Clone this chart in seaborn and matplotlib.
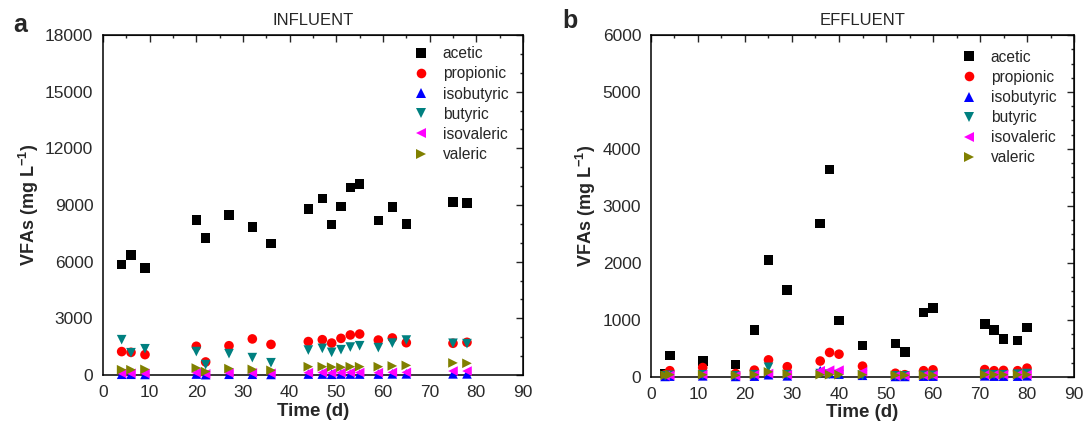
import pandas as pd
import matplotlib
matplotlib.use("Agg")
import matplotlib.pyplot as plt
import seaborn as sns
from matplotlib.ticker import MultipleLocator

# Data (mg/L)
acids = ["acetic", "propionic", "isobutyric", "butyric", "isovaleric", "valeric"]
colors = ["#000000", "#ff0000", "#0000ff", "#008080", "#ff00ff", "#808000"]
markers = ["s", "o", "^", "v", "<", ">"]

inf_days = [4, 6, 9, 20, 22, 27, 32, 36, 44, 47, 49, 51, 53, 55, 59, 62, 65, 75, 78]
inf_acetic = [5850, 6350, 5650, 8200, 7250, 8480, 7820, 6960, 8800, 9350, 7960,
              8920, 9920, 10100, 8180, 8880, 8000, 9160, 9090]
inf_propionic = [1240, 1200, 1080, 1520, 690, 1550, 1910, 1620, 1770, 1870, 1690,
                 1940, 2120, 2170, 1850, 1960, 1710, 1680, 1730]
inf_isobutyric = [40, 40, 30, 50, 20, 40, 40, 30, 50, 50, 40, 50, 50, 50, 50, 60, 60, 60, 60]
inf_butyric = [1870, 1180, 1390, 1240, 550, 1130, 920, 650, 1320, 1410, 1200,
               1340, 1480, 1550, 1450, 1690, 1850, 1680, 1660]
inf_isovaleric = [90, 90, 80, 120, 60, 110, 110, 90, 120, 130, 110, 120, 130,
                  130, 120, 140, 140, 210, 210]
inf_valeric = [280, 280, 300, 370, 180, 340, 300, 250, 440, 440, 420, 410, 440,
               440, 440, 480, 510, 640, 620]

eff_days = [3, 4, 11, 18, 22, 25, 29, 36, 38, 40, 45, 52, 54, 58, 60, 71, 73, 75, 78, 80]
eff_acetic = [60, 380, 280, 220, 820, 2050, 1530, 2690, 3640, 990, 550, 590, 440,
              1130, 1210, 930, 820, 670, 640, 870]
eff_propionic = [40, 110, 165, 60, 120, 300, 180, 280, 430, 400, 190, 65, 40,
                 110, 125, 130, 110, 115, 110, 155]
eff_isobutyric = [10, 15, 20, 10, 15, 40, 20, 110, 60, 50, 30, 10, 10, 15, 15, 20, 15, 15, 15, 20]
eff_butyric = [20, 30, 40, 20, 40, 170, 40, 60, 50, 40, 30, 20, 20, 30, 30, 50, 40, 40, 50, 60]
eff_isovaleric = [20, 30, 40, 20, 40, 60, 40, 110, 120, 120, 90, 20, 20, 30, 30, 40, 40, 40, 40, 40]
eff_valeric = [30, 40, 40, 30, 40, 90, 50, 40, 40, 40, 40, 30, 30, 30, 30, 40, 40, 40, 40, 40]


def to_long(days, series):
    rows = []
    for acid, vals in zip(acids, series):
        for d, v in zip(days, vals):
            rows.append({"Time": d, "VFA": v, "acid": acid})
    return pd.DataFrame(rows)


inf_df = to_long(inf_days, [inf_acetic, inf_propionic, inf_isobutyric,
                            inf_butyric, inf_isovaleric, inf_valeric])
eff_df = to_long(eff_days, [eff_acetic, eff_propionic, eff_isobutyric,
                            eff_butyric, eff_isovaleric, eff_valeric])

sns.set_style("white")
plt.rcParams["font.family"] = ["Liberation Sans", "DejaVu Sans"]
plt.rcParams["mathtext.fontset"] = "custom"
plt.rcParams["mathtext.rm"] = "Liberation Sans"
plt.rcParams["mathtext.bf"] = "Liberation Sans:bold"

fig = plt.figure(figsize=(10.83, 4.30), dpi=100)
ax_a = fig.add_axes([0.0951, 0.1279, 0.3878, 0.7907])
ax_b = fig.add_axes([0.6011, 0.1233, 0.3906, 0.7953])

palette = dict(zip(acids, colors))
marker_map = dict(zip(acids, markers))
tick_col = "#2a2a2a"


def style_axes(ax, ymax, ymaj, ymin, title, leg_anchor):
    ax.set_xlim(0, 90)
    ax.set_ylim(0, ymax)
    ax.xaxis.set_major_locator(MultipleLocator(10))
    ax.xaxis.set_minor_locator(MultipleLocator(5))
    ax.yaxis.set_major_locator(MultipleLocator(ymaj))
    ax.yaxis.set_minor_locator(MultipleLocator(ymin))
    for s in ax.spines.values():
        s.set_color("black")
        s.set_linewidth(1.1)
    ax.tick_params(which="major", direction="out", length=5, width=1.0,
                   labelsize=12.5, labelcolor=tick_col, color="black",
                   top=False, right=False, pad=2)
    ax.tick_params(which="minor", direction="out", length=2.5, width=1.0,
                   top=False, right=False, color="black")
    # mirrored ticks pointing inward on top and right
    top = ax.secondary_xaxis("top")
    top.xaxis.set_major_locator(MultipleLocator(10))
    top.xaxis.set_minor_locator(MultipleLocator(5))
    top.tick_params(which="major", direction="in", length=5, width=1.0, labeltop=False)
    top.tick_params(which="minor", direction="in", length=2.5, width=1.0)
    right = ax.secondary_yaxis("right")
    right.yaxis.set_major_locator(MultipleLocator(ymaj))
    right.yaxis.set_minor_locator(MultipleLocator(ymin))
    right.tick_params(which="major", direction="in", length=5, width=1.0, labelright=False)
    right.tick_params(which="minor", direction="in", length=2.5, width=1.0)
    ax.set_xlabel("Time (d)", fontsize=13.5, fontweight="bold", labelpad=2)
    ax.set_ylabel(r"VFAs (mg L$^{\mathbf{-1}}$)", fontsize=13, fontweight="bold", labelpad=3)
    ax.set_title(title, fontsize=12, pad=7)
    ax.legend(loc="upper left", bbox_to_anchor=leg_anchor, frameon=False,
              fontsize=11.2, handletextpad=0.4, labelspacing=0.33,
              borderaxespad=0, markerscale=1.0)


for ax, df in [(ax_a, inf_df), (ax_b, eff_df)]:
    sns.scatterplot(data=df, x="Time", y="VFA", hue="acid", style="acid",
                    palette=palette, markers=marker_map, hue_order=acids,
                    style_order=acids, s=48, linewidth=0, clip_on=False,
                    zorder=3, ax=ax)

style_axes(ax_a, 18000, 3000, 1000, "INFLUENT", (0.705, 0.985))
style_axes(ax_b, 6000, 1000, 250, "EFFLUENT", (0.70, 0.975))

fig.text(0.012, 0.925, "a", fontsize=18, fontweight="bold")
fig.text(0.519, 0.935, "b", fontsize=18, fontweight="bold")

fig.savefig("out.png", dpi=100)
